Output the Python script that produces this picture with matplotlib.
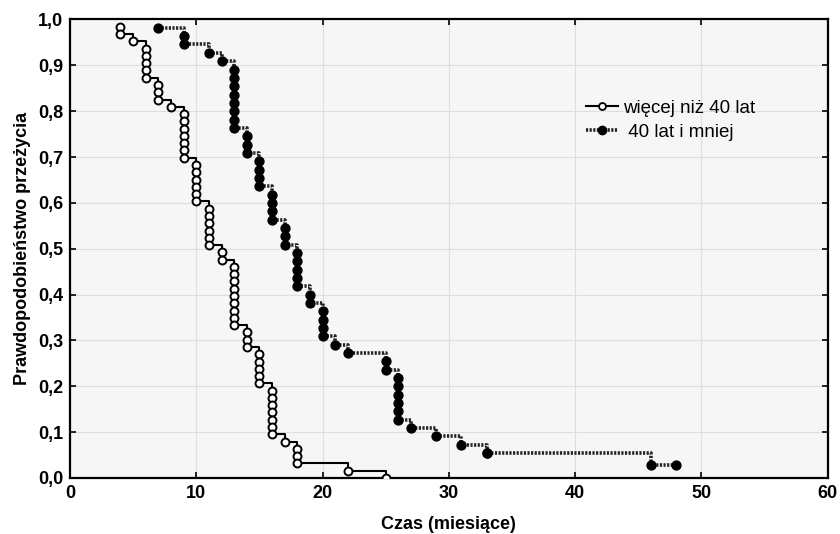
#!/usr/bin/env python

import numpy as np
import matplotlib
matplotlib.use('Agg')
import matplotlib.pyplot as plt
from matplotlib.ticker import MultipleLocator, FuncFormatter

plt.rcParams['font.family'] = 'Liberation Sans'

# grupa: wiecej niz 40 lat (czas zgonu, liczba zgonow)
old_n = 63
old_time = [4, 5, 6, 7, 8, 9, 10, 11, 12, 13, 14, 15, 16, 17, 18, 22, 25]
old_dead = [2, 1, 5, 3, 1, 7, 6, 6, 2, 9, 3, 5, 7, 1, 3, 1, 1]
old_cens = [0] * len(old_time)

# grupa: 40 lat i mniej
young_n = 55
young_time = [7, 9, 11, 12, 13, 14, 15, 16, 17, 18, 19, 20, 21, 22, 25, 26,
              27, 29, 31, 33, 46, 48]
young_dead = [1, 2, 1, 1, 8, 3, 4, 4, 3, 5, 2, 4, 1, 1, 2, 6,
              1, 1, 1, 1, 1, 0]
young_cens = [0, 0, 0, 0, 0, 0, 0, 0, 0, 0, 0, 0, 0, 0, 0, 0,
              0, 0, 0, 1, 0, 1]

labels = ['więcej niż 40 lat', ' 40 lat i mniej']


def km_curve(n, times, dead, cens):
    """step line + one marker per observation (Statistica style)"""
    lx, ly = [], []
    mx, my = [], []
    s, risk = 1., n
    for t, d, c in zip(times, dead, cens):
        if lx:
            lx.append(t); ly.append(s)
        for k in range(d):
            s = s * (risk - 1) / risk
            risk -= 1
            mx.append(t); my.append(s)
        for k in range(c):
            mx.append(t); my.append(s)
        risk -= c
        if not lx:
            lx.append(t); ly.append(my[0])
        lx.append(t); ly.append(s)
    return lx, ly, mx, my


fig = plt.figure(figsize=(8.4, 5.34), dpi=100)
ax = fig.add_axes([0.0833, 0.105, 0.902, 0.8585])
ax.set_facecolor('#f6f6f6')

lx, ly, mx, my = km_curve(old_n, old_time, old_dead, old_cens)
ax.plot(lx, ly, ls='-', lw=1.5, color='k', zorder=3)
ax.plot(mx, my, ls='None', marker='o', ms=5.7, mfc='white', mec='k',
        mew=1.4, zorder=4)

lx, ly, mx, my = km_curve(young_n, young_time, young_dead, young_cens)
ax.plot(lx, ly, ls=(0, (0.6, 0.4)), lw=2.6, color='#222222', zorder=3)
ax.plot(mx, my, ls='None', marker='o', ms=6.4, mfc='k', mec='k', zorder=4)

# legend handles
ax.plot([], [], ls='-', lw=1.5, color='k', marker='o', ms=5, mfc='white',
        mec='k', mew=1.3, label=labels[0])
ax.plot([], [], ls=(0, (0.6, 0.4)), lw=2.6, color='#222222', marker='o',
        ms=6, mfc='k', mec='k', label=labels[1])
handles, labs = ax.get_legend_handles_labels()
ax.legend(handles, labs, loc='upper left', bbox_to_anchor=(0.671, 0.841),
          frameon=False, fontsize=13.5, handlelength=1.7, handletextpad=0.3,
          labelspacing=0.35, borderaxespad=0.)

ax.set_xlim(0, 60)
ax.set_ylim(0, 1.0)
ax.xaxis.set_major_locator(MultipleLocator(10))
ax.yaxis.set_major_locator(MultipleLocator(0.1))
ax.yaxis.set_major_formatter(FuncFormatter(lambda v, p: ('%.1f' % v).replace('.', ',')))
ax.grid(True, color='#dedede', lw=0.8, zorder=0)
ax.set_axisbelow(True)

ax.tick_params('both', direction='in', length=4, width=1.2, top=True,
               right=True, labelsize=13, pad=5)
for lab in ax.get_xticklabels() + ax.get_yticklabels():
    lab.set_fontweight('bold')
for sp in ax.spines.values():
    sp.set_linewidth(1.6)

ax.set_xlabel('Czas (miesiące)', fontsize=13, fontweight='bold', labelpad=10)
ax.set_ylabel('Prawdopodobieństwo przeżycia', fontsize=13,
              fontweight='bold', labelpad=5)

plt.savefig('out.png', dpi=100)
